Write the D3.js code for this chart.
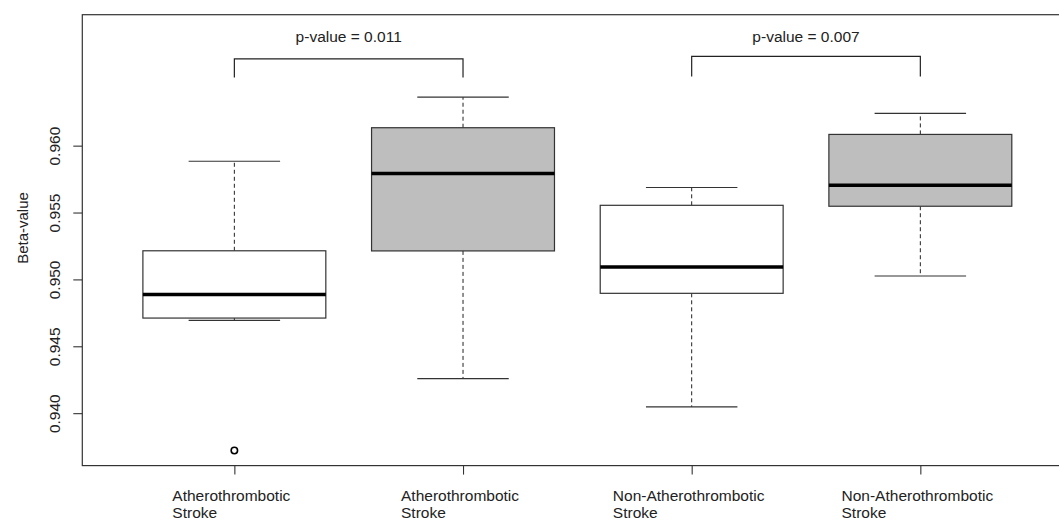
<!DOCTYPE html>
<html>
<head>
<meta charset="utf-8">
<script src="https://cdn.jsdelivr.net/npm/d3@7"></script>
<style>
  html, body { margin: 0; padding: 0; background: #fff; }
  svg { display: block; }
  text { font-family: "Liberation Sans", Arial, sans-serif; fill: #222; }
</style>
</head>
<body>
<svg id="chart" width="1059" height="523"></svg>
<script>
// Group labels (two lines each)
const categories = [
  ["Atherothrombotic", "Stroke"],
  ["Atherothrombotic", "Stroke"],
  ["Non-Atherothrombotic", "Stroke"],
  ["Non-Atherothrombotic", "Stroke"]
];
// Box fill per group: controls white, cases gray
const boxFills = ["#ffffff", "#bebebe", "#ffffff", "#bebebe"];

// Five-number summaries of beta-values per group
const whiskerLow  = [0.94694, 0.94258, 0.94047, 0.95025];
const q1          = [0.94711, 0.95213, 0.94896, 0.95547];
const medians     = [0.94888, 0.95791, 0.95092, 0.95704];
const q3          = [0.95214, 0.96134, 0.95554, 0.96084];
const whiskerHigh = [0.95883, 0.96363, 0.95687, 0.96241];
const outliers    = [[0.93721], [], [], []];

// Pairwise comparisons drawn as brackets (label baseline given in data units)
const comparisons = [
  { from: 1, to: 2, label: "p-value = 0.011", top: 0.96649, leg: 0.96510, labelAt: 0.96775 },
  { from: 3, to: 4, label: "p-value = 0.007", top: 0.96667, leg: 0.96517, labelAt: 0.96775 }
];

const yTicks = [0.940, 0.945, 0.950, 0.955, 0.960];
const yLabel = "Beta-value";

const svg = d3.select("#chart");
const fontSize = 15.5;

const x = d3.scaleLinear().domain([0.335, 4.665]).range([82.3, 1072.4]);
const y = d3.scaleLinear().domain([0.93608, 0.96979]).range([465.6, 14.7]);

const unit = x(2) - x(1);
const boxHalf = unit * 0.8 / 2;
const capHalf = boxHalf / 2;

// Plot frame
svg.append("rect")
  .attr("x", x.range()[0]).attr("y", y.range()[1])
  .attr("width", x.range()[1] - x.range()[0])
  .attr("height", y.range()[0] - y.range()[1])
  .attr("fill", "none").attr("stroke", "#333").attr("stroke-width", 1.2);

// Y axis
const yAxis = d3.axisLeft(y).tickValues(yTicks).tickFormat(d3.format(".3f")).tickSize(9).tickPadding(0);
const yg = svg.append("g").attr("transform", `translate(${x.range()[0]},0)`).call(yAxis);
yg.select(".domain").remove();
yg.selectAll(".tick line").attr("stroke", "#333").attr("stroke-width", 1.1);
yg.selectAll(".tick text")
  .attr("x", null).attr("dy", null)
  .attr("transform", "translate(-22,0) rotate(-90)")
  .attr("text-anchor", "middle")
  .style("font-size", fontSize + "px")
  .style("font-family", "'Liberation Sans', Arial, sans-serif")
  .attr("fill", "#222");

// X axis ticks at group centres
const xAxis = d3.axisBottom(x).tickValues([1, 2, 3, 4]).tickFormat("").tickSize(9);
const xg = svg.append("g").attr("transform", `translate(0,${y.range()[0]})`).call(xAxis);
xg.select(".domain").remove();
xg.selectAll(".tick line").attr("stroke", "#333").attr("stroke-width", 1.1);

// Two-line category labels, lines left-aligned, first line roughly centred
categories.forEach((lines, i) => {
  const t = svg.append("text")
    .attr("text-anchor", "start")
    .style("font-size", fontSize + "px");
  lines.forEach((ln, k) => {
    t.append("tspan").text(ln).attr("dy", k === 0 ? 0 : 17);
  });
  const w = t.select("tspan").node().getComputedTextLength();
  const x0 = x(i + 1) - w / 2 - 3;
  t.attr("y", y.range()[0] + 35);
  t.selectAll("tspan").attr("x", x0);
});

// Y axis title
svg.append("text")
  .attr("transform", `translate(28,228) rotate(-90)`)
  .attr("text-anchor", "middle")
  .style("font-size", "15px")
  .text(yLabel);

// Boxes
const groups = svg.append("g").selectAll("g").data(d3.range(4)).join("g");

groups.each(function(i) {
  const g = d3.select(this);
  const cx = x(i + 1);
  // whiskers (dashed)
  g.append("line").attr("x1", cx).attr("x2", cx)
    .attr("y1", y(q3[i])).attr("y2", y(whiskerHigh[i]))
    .attr("stroke", "#222").attr("stroke-dasharray", "4,3");
  g.append("line").attr("x1", cx).attr("x2", cx)
    .attr("y1", y(q1[i])).attr("y2", y(whiskerLow[i]))
    .attr("stroke", "#222").attr("stroke-dasharray", "4,3");
  // staples
  [whiskerHigh[i], whiskerLow[i]].forEach(v => {
    g.append("line").attr("x1", cx - capHalf).attr("x2", cx + capHalf)
      .attr("y1", y(v)).attr("y2", y(v))
      .attr("stroke", "#333").attr("stroke-width", 1.1);
  });
  // box
  g.append("rect")
    .attr("x", cx - boxHalf).attr("width", boxHalf * 2)
    .attr("y", y(q3[i])).attr("height", y(q1[i]) - y(q3[i]))
    .attr("fill", boxFills[i]).attr("stroke", "#333").attr("stroke-width", 1.2);
  // median
  g.append("line").attr("x1", cx - boxHalf).attr("x2", cx + boxHalf)
    .attr("y1", y(medians[i])).attr("y2", y(medians[i]))
    .attr("stroke", "#000").attr("stroke-width", 3.5);
  // outliers
  outliers[i].forEach(v => {
    g.append("circle").attr("cx", cx).attr("cy", y(v)).attr("r", 3.2)
      .attr("fill", "none").attr("stroke", "#000").attr("stroke-width", 1.6);
  });
});

// Significance brackets
comparisons.forEach(c => {
  const x1 = x(c.from), x2 = x(c.to);
  svg.append("path")
    .attr("d", `M${x1},${y(c.leg)}V${y(c.top)}H${x2}V${y(c.leg)}`)
    .attr("fill", "none").attr("stroke", "#222").attr("stroke-width", 1.2);
  svg.append("text")
    .attr("x", (x1 + x2) / 2).attr("y", y(c.labelAt))
    .attr("text-anchor", "middle")
    .style("font-size", fontSize + "px")
    .text(c.label);
});
</script>
</body>
</html>
